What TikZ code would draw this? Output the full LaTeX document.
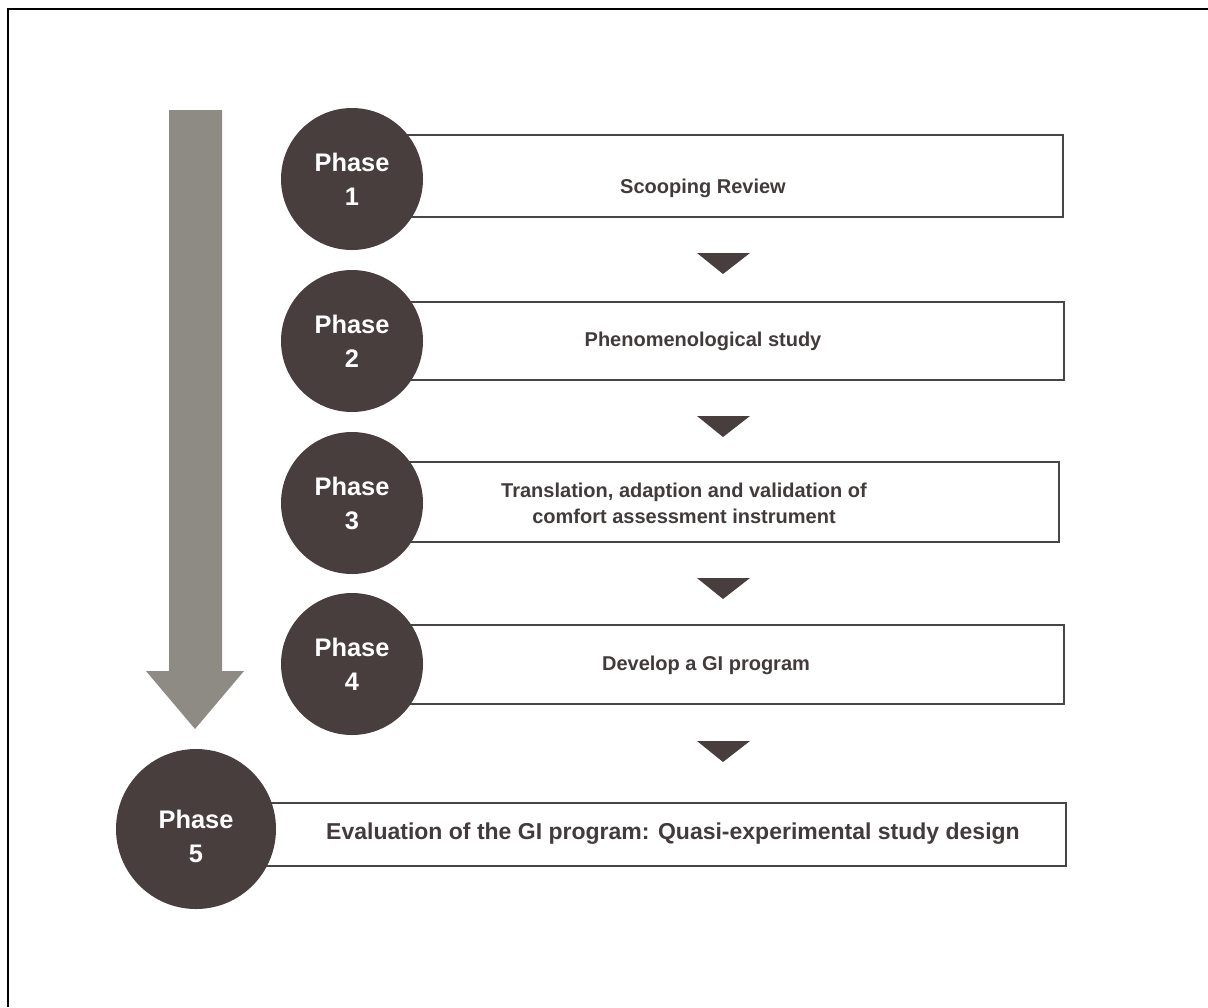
\documentclass[tikz,border=0pt]{standalone}
\usepackage{fontspec}
\setmainfont{Liberation Sans}
\definecolor{phasedark}{HTML}{483E3D}
\definecolor{arrowgrey}{HTML}{8E8A84}
\definecolor{textdark}{HTML}{433B3B}
\definecolor{boxline}{HTML}{4A4545}
\tikzset{
  phase/.style={circle, fill=phasedark, text=white, minimum size=71pt, inner sep=0pt,
    align=center, font=\fontsize{12.7}{17}\selectfont\bfseries},
  steptext/.style={text=textdark, align=center, font=\fontsize{10}{13}\selectfont\bfseries},
  stepbox/.style={draw=boxline, line width=1.3pt, fill=white},
}

\begin{document}
\begin{tikzpicture}[x=0.5pt,y=-0.5pt]
    \useasboundingbox (0,0) rectangle (1208,1007);
    \draw[line width=1.2pt] (8,1007) -- (8,9) -- (1208,9);
    % big grey arrow on the left
    \fill[arrowgrey] (169,110) -- (222,110) -- (222,671) -- (244,671) -- (195,729)
        -- (146,671) -- (169,671) -- cycle;
    % boxes
    \draw[stepbox] (351,135) rectangle (1063,217);
    \draw[stepbox] (351,302) rectangle (1064,380);
    \draw[stepbox] (351,462) rectangle (1059,542);
    \draw[stepbox] (351,625) rectangle (1064,704);
    \draw[stepbox] (195,803) rectangle (1066,866);
    \foreach \y in {253,416,578,741}{
        \fill[phasedark] (697,\y) -- (750,\y) -- (723,\y+21) -- cycle;
    }
    % phases
    \foreach \n/\y in {1/179,2/341,3/503,4/664}{
        \node[phase] (p\n) at (352,\y) {Phase\\\n};
    }
    \node[phase, minimum size=80pt] (p5) at (196,829) {};
    \node[phase, fill=none, minimum size=0pt] (p5t) at ([yshift=-3.5pt]p5.center) {Phase\\5};
    \node[steptext] (s1) at (703,188) {Scooping Review};
    \node[steptext] (s2) at (703,341) {Phenomenological study};
    \node[steptext] (s3) at (684,503) {Translation, adaption and validation of\\comfort assessment instrument};
    \node[steptext] (s4) at (706,665) {Develop a GI program};
    \node[steptext, font=\fontsize{11.5}{14}\selectfont\bfseries] (s5) at (673,834) {Evaluation of the GI program: Quasi-experimental study design};
\end{tikzpicture}
\end{document}
